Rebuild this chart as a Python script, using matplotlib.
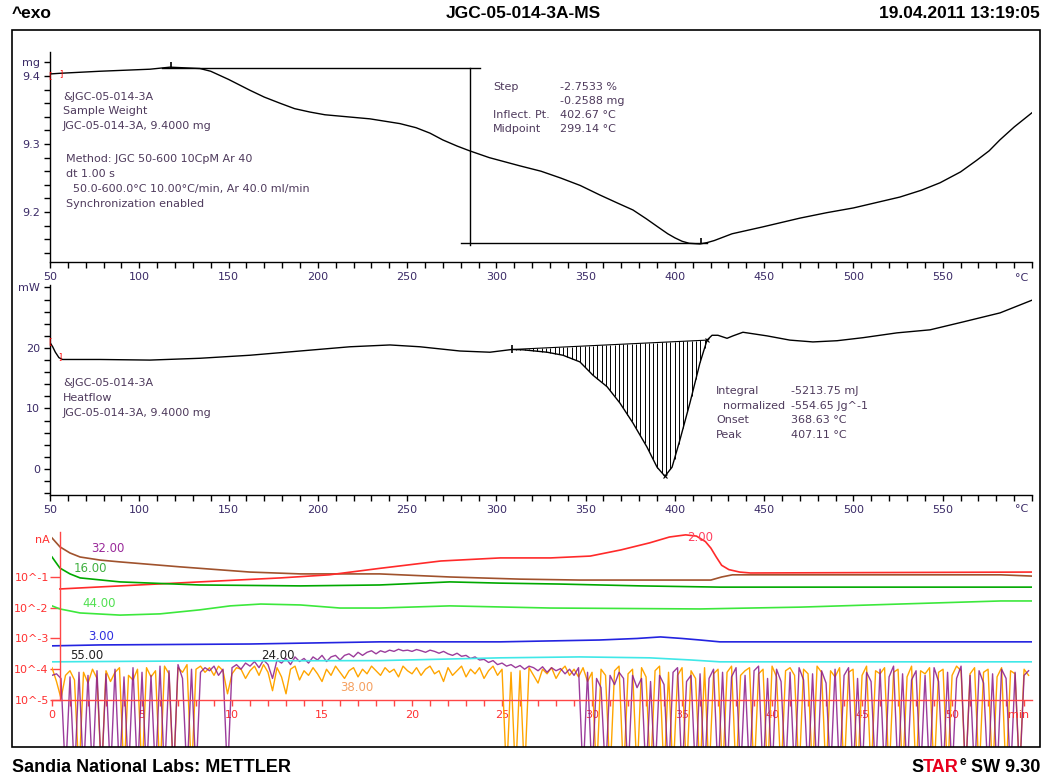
import numpy as np
import matplotlib
matplotlib.use('Agg')
import matplotlib.pyplot as plt
from matplotlib.patches import Rectangle
from matplotlib.ticker import MultipleLocator, FixedLocator

W, H = 1047, 780

# ---- TGA (sample weight) ----
tga_temp = [50.0, 55.6, 78.0, 106.0, 117.2, 134.0, 140.0, 150.0, 156.0, 162.0, 170.0, 178.8,
            187.0, 195.6, 204.0, 212.4, 229.2, 246.0, 255.0, 262.8, 270.0, 278.0, 285.0, 296.0,
            313.0, 325.0, 336.0, 347.0, 358.0, 368.0, 376.5, 384.0, 390.5, 396.0, 400.0, 404.0,
            408.0, 414.0, 418.0, 422.0, 432.0, 449.0, 470.0, 485.0, 500.0, 513.0, 526.0, 538.0,
            548.5, 560.0, 569.0, 576.0, 582.0, 590.0, 600.0]
tga_mg = [9.403, 9.404, 9.407, 9.410, 9.413, 9.411, 9.407, 9.395, 9.387, 9.379, 9.369, 9.360,
          9.352, 9.347, 9.343, 9.341, 9.337, 9.330, 9.324, 9.316, 9.306, 9.297, 9.290, 9.280,
          9.268, 9.260, 9.250, 9.239, 9.225, 9.213, 9.203, 9.190, 9.178, 9.168, 9.162, 9.157,
          9.154, 9.153, 9.155, 9.158, 9.168, 9.178, 9.191, 9.199, 9.206, 9.214, 9.222, 9.232,
          9.243, 9.259, 9.276, 9.290, 9.306, 9.325, 9.346]

# ---- DSC (heat flow) ----
dsc_temp = [50.0, 51.5, 53.0, 55.0, 57.0, 78.0, 106.0, 134.0, 162.0, 190.0, 218.0, 240.4,
            257.2, 279.6, 296.4, 308.7, 314.9, 328.4, 337.3, 346.8, 354.1, 362.0, 369.2, 376.5,
            384.4, 390.0, 394.4, 398.4, 402.8, 408.4, 414.0, 418.0, 420.8, 424.1, 429.2, 432.5,
            438.1, 451.6, 464.4, 477.3, 490.8, 505.3, 524.4, 542.9, 561.3, 582.1, 600.0]
dsc_mw = [20.9, 20.2, 19.3, 18.4, 18.1, 18.1, 18.0, 18.3, 18.8, 19.5, 20.2, 20.5,
          20.2, 19.5, 19.3, 19.75, 19.7, 19.3, 18.8, 17.7, 15.5, 13.6, 10.9, 7.6,
          3.6, 0.3, -1.2, 0.3, 4.8, 10.9, 17.5, 21.3, 22.1, 22.1, 21.6, 22.0,
          22.6, 22.0, 21.3, 21.0, 21.2, 21.7, 22.5, 23.0, 24.3, 25.8, 27.9]
base_temp = [308.7, 418.0]
base_mw = [19.75, 21.3]

# ---- MS ion currents (log10 of nA) ----
ms_t = {
    '32.00': [0.0, 0.44, 1.0, 1.56, 2.67, 3.78, 7.1, 11.0, 13.8, 18.2, 22.1, 26.0, 29.3, 34.9, 36.6, 37.2, 37.8, 41.6, 52.7, 54.4],
    '2.00': [0.44, 3.78, 8.2, 12.7, 15.4, 18.2, 21.6, 24.9, 27.7, 29.9, 31.6, 33.2, 34.3, 35.2, 35.8, 36.3, 36.6, 36.9, 37.2, 37.6, 38.2, 38.8, 54.4],
    '16.00': [0.0, 0.44, 1.0, 1.56, 3.78, 8.2, 13.8, 18.2, 22.1, 24.9, 28.2, 32.7, 37.1, 54.4],
    '44.00': [0.0, 0.44, 1.56, 3.78, 6.0, 8.2, 9.9, 11.6, 13.8, 16.0, 18.2, 22.1, 27.7, 36.0, 41.6, 47.1, 52.7, 54.4],
    '3.00': [0.0, 2.67, 11.0, 18.2, 24.9, 30.4, 32.5, 33.8, 35.0, 36.0, 37.1, 54.4],
    '55.00': [0.0, 8.2, 18.2, 24.9, 29.3, 33.2, 35.5, 37.1, 54.4],
}
ms_log = {
    '32.00': [0.27, -0.02, -0.22, -0.35, -0.45, -0.51, -0.67, -0.84, -0.90, -0.90, -1.00, -1.07, -1.10, -1.10, -1.10, -1.00, -0.93, -0.93, -0.93, -0.97],
    '2.00': [-1.39, -1.29, -1.16, -1.03, -0.93, -0.72, -0.48, -0.38, -0.38, -0.32, -0.12, 0.11, 0.30, 0.37, 0.33, 0.15, -0.06, -0.35, -0.62, -0.76, -0.84, -0.87, -0.84],
    '16.00': [-0.35, -0.71, -0.90, -1.03, -1.16, -1.26, -1.29, -1.26, -1.16, -1.20, -1.23, -1.29, -1.33, -1.33],
    '44.00': [-1.94, -2.04, -2.17, -2.24, -2.20, -2.07, -1.94, -1.88, -1.91, -2.01, -2.01, -1.94, -2.01, -2.04, -1.98, -1.88, -1.78, -1.78],
    '3.00': [-3.24, -3.21, -3.18, -3.11, -3.11, -3.05, -3.00, -2.95, -3.00, -3.05, -3.11, -3.11],
    '55.00': [-3.76, -3.73, -3.72, -3.63, -3.60, -3.63, -3.70, -3.76, -3.76],
}
ms_colors = {'32.00': '#a0522d', '2.00': '#ff2a2a', '16.00': '#00a800', '44.00': '#3ce83c',
             '3.00': '#2323e0', '55.00': '#40e8e8'}

# noisy channels, one reading every 0.25 min from 0 to 54.25 min (-7.5 = dropout below range)
purple_24 = [
    -4.20, -4.15, -4.30, -7.5, -4.25, -7.5, -4.10, -7.5, -4.20, -7.5, -4.05, -7.5,
    -4.15, -7.5, -4.00, -7.5, -4.25, -7.5, -3.95, -7.5, -4.10, -7.5, -4.20, -7.5,
    -3.90, -7.5, -4.05, -7.5, -3.85, -4.30, -7.5, -4.00, -7.5, -4.10, -3.95, -4.05,
    -3.90, -4.20, -4.00, -7.5, -3.95, -3.85, -4.00, -3.80, -3.90, -3.75, -3.95, -3.70,
    -3.85, -4.30, -3.70, -3.80, -3.65, -3.85, -3.60, -3.75, -3.65, -3.80, -3.60, -3.70,
    -3.55, -3.75, -3.60, -3.55, -3.70, -3.55, -3.50, -3.60, -3.45, -3.55, -3.45, -3.40,
    -3.50, -3.40, -3.45, -3.38, -3.42, -3.35, -3.40, -3.38, -3.42, -3.36, -3.40, -3.45,
    -3.38, -3.42, -3.48, -3.42, -3.50, -3.55, -3.48, -3.58, -3.55, -3.65, -3.60, -3.70,
    -3.68, -3.78, -3.72, -3.85, -3.80, -3.90, -3.85, -3.95, -3.88, -4.00, -3.90, -3.95,
    -4.05, -3.92, -4.10, -3.95, -4.05, -3.98, -4.15, -4.00, -4.20, -3.95, -7.5, -4.10,
    -7.5, -4.30, -4.60, -7.5, -4.20, -4.50, -4.10, -4.30, -7.5, -4.20, -4.60, -4.30,
    -7.5, -4.40, -7.5, -4.20, -4.50, -7.5, -4.10, -3.95, -7.5, -4.40, -4.20, -7.5,
    -4.15, -7.5, -4.30, -4.00, -7.5, -4.10, -7.5, -4.25, -3.95, -7.5, -4.20, -7.5,
    -4.05, -3.90, -7.5, -4.30, -7.5, -4.00, -4.40, -7.5, -4.10, -7.5, -3.95, -4.35,
    -7.5, -4.15, -7.5, -4.05, -4.45, -7.5, -4.00, -7.5, -4.20, -3.95, -7.5, -4.30,
    -7.5, -4.10, -4.40, -7.5, -4.00, -7.5, -4.25, -3.90, -7.5, -4.15, -7.5, -4.35,
    -4.05, -7.5, -4.20, -7.5, -3.95, -4.40, -7.5, -4.10, -7.5, -4.30, -3.90, -7.5,
    -4.20, -7.5, -4.05, -4.45, -7.5, -4.15, -7.5, -4.00, -4.30, -7.5, -4.10, -7.5,
    -4.20, -4.05]
orange_38 = [
    -3.95, -4.40, -4.95, -4.20, -4.05, -4.35, -7.5, -4.10, -4.45, -4.00, -4.30, -7.5,
    -4.05, -4.40, -4.10, -3.95, -7.5, -4.20, -4.35, -4.00, -7.5, -3.95, -4.25, -4.05,
    -7.5, -3.90, -4.15, -7.5, -3.95, -4.10, -3.85, -7.5, -4.00, -3.90, -4.10, -3.95,
    -4.20, -3.90, -4.05, -4.80, -4.15, -3.95, -4.00, -4.30, -4.05, -3.90, -4.20, -3.85,
    -4.10, -4.70, -3.95, -4.25, -4.80, -4.00, -3.90, -4.35, -4.05, -4.20, -3.95, -4.15,
    -4.40, -4.00, -4.20, -3.90, -4.10, -4.30, -4.05, -3.95, -4.25, -4.00, -4.15, -3.90,
    -4.05, -4.20, -3.95, -4.10, -4.00, -4.25, -3.90, -4.05, -4.15, -3.95, -4.20, -4.00,
    -3.90, -4.15, -4.05, -4.40, -3.95, -4.20, -4.05, -3.90, -4.25, -4.00, -4.15, -3.95,
    -4.30, -4.05, -3.90, -4.20, -4.00, -7.5, -4.10, -7.5, -4.05, -7.5, -3.95, -4.20,
    -4.45, -4.00, -4.15, -3.95, -4.30, -4.05, -3.90, -4.20, -4.00, -4.25, -3.95, -4.40,
    -4.10, -7.5, -4.00, -4.20, -7.5, -4.05, -3.90, -7.5, -4.15, -4.00, -7.5, -3.95,
    -4.25, -7.5, -4.05, -3.90, -7.5, -4.10, -7.5, -4.20, -3.95, -7.5, -4.05, -4.30,
    -7.5, -3.95, -7.5, -4.15, -4.00, -7.5, -4.10, -3.90, -7.5, -4.20, -4.05, -3.95,
    -7.5, -4.15, -4.00, -7.5, -3.90, -4.25, -7.5, -4.05, -3.95, -4.20, -7.5, -4.00,
    -4.15, -7.5, -3.90, -4.10, -7.5, -4.05, -4.25, -3.95, -7.5, -4.10, -4.00, -7.5,
    -4.20, -3.90, -7.5, -4.05, -4.15, -3.95, -7.5, -4.10, -4.00, -7.5, -4.25, -3.90,
    -7.5, -4.05, -4.15, -3.95, -7.5, -4.10, -4.00, -7.5, -4.20, -3.90, -4.05, -7.5,
    -4.15, -3.95, -7.5, -4.10, -4.00, -7.5, -4.25, -3.95, -7.5, -4.05, -4.15, -7.5,
    -4.00, -4.20]

TXT = '#4e3a5c'
TICK = '#3a2a66'
MSRED = '#ff4646'
FS = 8


def rect(l, t, r, b):
    return [l / W, 1 - b / H, (r - l) / W, (b - t) / H]


def style_axes(ax, color, tickcolor):
    for s in ['top', 'right']:
        ax.spines[s].set_visible(False)
    for s in ['left', 'bottom']:
        ax.spines[s].set_color(color)
        ax.spines[s].set_linewidth(1.0)
    ax.tick_params(which='both', direction='out', colors=color, labelcolor=tickcolor,
                   labelsize=FS, width=1.0)
    ax.tick_params(which='major', length=4, pad=3)
    ax.tick_params(which='minor', length=4)
    ax.patch.set_visible(False)


fig = plt.figure(figsize=(W / 100, H / 100), dpi=100)
renderer = fig.canvas.get_renderer()

# header / footer
head = dict(fontsize=12.5, fontweight='bold', family='Liberation Sans', va='center')
fig.text(12 / W, 1 - 14 / H, '^exo', **head)
fig.text(523 / W, 1 - 14 / H, 'JGC-05-014-3A-MS', ha='center', **head)
fig.text(1040 / W, 1 - 14 / H, '19.04.2011 13:19:05', ha='right', **head)
foot = dict(fontsize=13, fontweight='bold', family='Liberation Sans', va='center')
fig.text(12 / W, 1 - 767 / H, 'Sandia National Labs: METTLER', **foot)

xr = 1040
for s, c, dy, fs in [(' SW 9.30', 'black', 0, 13), ('e', 'black', -5, 8.5), ('TAR', '#e8001c', 0, 13),
                     ('S', 'black', 0, 13)]:
    t = fig.text(xr / W, 1 - (767 + dy) / H, s, color=c, ha='right',
                 **{**foot, 'fontsize': fs})
    xr = t.get_window_extent(renderer=renderer).x0

fig.patches.append(Rectangle((12 / W, 1 - 747 / H), 1028 / W, 717 / H, transform=fig.transFigure,
                             fill=False, lw=1.2, ec='black'))

# ---------------- TGA ----------------
ax1 = fig.add_axes(rect(50, 52, 1032, 262))
ax1.plot(tga_temp, tga_mg, color='black', lw=1.0)
ax1.set_xlim(50, 600)
ax1.set_ylim(9.1265, 9.4353)
style_axes(ax1, 'black', TICK)
ax1.xaxis.set_major_locator(FixedLocator([50, 100, 150, 200, 250, 300, 350, 400, 450, 500, 550]))
ax1.xaxis.set_minor_locator(MultipleLocator(10))
ax1.yaxis.set_major_locator(FixedLocator([9.2, 9.3, 9.4, 9.42]))
ax1.set_yticklabels(['9.2', '9.3', '9.4', 'mg'])
ax1.yaxis.set_minor_locator(MultipleLocator(0.02))
ax1.text(598, 9.1265 - 0.023, '°C', color=TICK, fontsize=FS, ha='right', va='center', clip_on=False)
# step evaluation lines
ax1.plot([113, 291], [9.4125, 9.4125], color='black', lw=1.0)
ax1.plot([285, 285], [9.4125, 9.151], color='black', lw=1.0)
ax1.plot([280, 418], [9.154, 9.154], color='black', lw=1.0)
ax1.plot([117.5, 414.5], [9.416, 9.157], ls='none', marker='|', ms=5, color='black', mew=1.2)
ax1.text(50, 9.4, '[', color='red', fontsize=6, ha='center', va='center')
ax1.text(56, 9.404, ']', color='red', fontsize=6, ha='center', va='center')

for i, s in enumerate(['&JGC-05-014-3A', 'Sample Weight', 'JGC-05-014-3A, 9.4000 mg']):
    fig.text(63 / W, 1 - (97 + 14.5 * i) / H, s, fontsize=FS, color=TXT, va='center')
for i, s in enumerate(['Method: JGC 50-600 10CpM Ar 40', 'dt 1.00 s',
                       '  50.0-600.0°C 10.00°C/min, Ar 40.0 ml/min', 'Synchronization enabled']):
    fig.text(66 / W, 1 - (159 + 15 * i) / H, s, fontsize=FS, color=TXT, va='center')
for i, (a, b) in enumerate([('Step', '-2.7533 %'), ('', '-0.2588 mg'), ('Inflect. Pt.', '402.67 °C'),
                            ('Midpoint', '299.14 °C')]):
    fig.text(493 / W, 1 - (87 + 14 * i) / H, a, fontsize=FS, color=TXT, va='center')
    fig.text(560 / W, 1 - (87 + 14 * i) / H, b, fontsize=FS, color=TXT, va='center')

# ---------------- DSC ----------------
ax2 = fig.add_axes(rect(50, 285, 1032, 495))
ax2.plot(dsc_temp, dsc_mw, color='black', lw=1.0)
ax2.plot(base_temp, base_mw, color='black', lw=0.8)
hx = np.arange(311, 418, 2.4)
ax2.vlines(hx, np.interp(hx, dsc_temp, dsc_mw), np.interp(hx, base_temp, base_mw), color='black', lw=0.7)
ax2.plot([308.7], [19.75], marker='|', ms=6, color='black', mew=1.2)
ax2.plot([418.0, 394.4], [21.3, -1.2], ls='none', marker='x', ms=3, color='black', mew=0.8)
ax2.set_xlim(50, 600)
ax2.set_ylim(-4.3, 30.41)
style_axes(ax2, 'black', TICK)
ax2.xaxis.set_major_locator(FixedLocator([50, 100, 150, 200, 250, 300, 350, 400, 450, 500, 550]))
ax2.xaxis.set_minor_locator(MultipleLocator(10))
ax2.yaxis.set_major_locator(FixedLocator([0, 10, 20, 30]))
ax2.set_yticklabels(['0', '10', '20', 'mW'])
ax2.yaxis.set_minor_locator(MultipleLocator(2))
ax2.text(598, -4.3 - 2.3, '°C', color=TICK, fontsize=FS, ha='right', va='center', clip_on=False)
ax2.text(50, 21.0, '[', color='red', fontsize=6, ha='center', va='center')
ax2.text(55.5, 18.6, ']', color='red', fontsize=6, ha='center', va='center')

for i, s in enumerate(['&JGC-05-014-3A', 'Heatflow', 'JGC-05-014-3A, 9.4000 mg']):
    fig.text(63 / W, 1 - (383 + 15 * i) / H, s, fontsize=FS, color=TXT, va='center')
for i, (a, b) in enumerate([('Integral', '-5213.75 mJ'), ('  normalized', '-554.65 Jg^-1'),
                            ('Onset', '368.63 °C'), ('Peak', '407.11 °C')]):
    fig.text(716 / W, 1 - (391 + 14.7 * i) / H, a, fontsize=FS, color=TXT, va='center')
    fig.text(791 / W, 1 - (391 + 14.7 * i) / H, b, fontsize=FS, color=TXT, va='center')

# ---------------- MS ----------------
ax3 = fig.add_axes(rect(52, 532, 1032, 747))
tn = np.linspace(0, 54.25, len(purple_24))
ax3.plot(tn, 10 ** np.array(orange_38), color='#ffa500', lw=1.0)
ax3.plot(tn, 10 ** np.array(purple_24), color='#8a1a8a', lw=1.0, alpha=0.85)
for k in ms_t:
    ax3.plot(ms_t[k], 10 ** np.array(ms_log[k]), color=ms_colors[k], lw=1.2)
ax3.set_yscale('log')
ax3.set_xlim(0, 54.44)
ax3.set_ylim(10 ** -6.53, 10 ** 0.463)
style_axes(ax3, MSRED, '#ff3030')
ax3.spines['left'].set_position(('data', 0.44))
ax3.spines['left'].set_bounds(1e-5, 10 ** 0.463)
ax3.spines['bottom'].set_position(('data', 1e-5))
ax3.yaxis.set_major_locator(FixedLocator([1e-5, 1e-4, 1e-3, 1e-2, 1e-1]))
ax3.set_yticklabels(['10^-5', '10^-4', '10^-3', '10^-2', '10^-1'])
ax3.yaxis.set_minor_locator(FixedLocator([]))
ax3.tick_params(axis='y', which='major', length=7, pad=1)
ax3.xaxis.set_major_locator(FixedLocator([0, 5, 10, 15, 20, 25, 30, 35, 40, 45, 50]))
ax3.xaxis.set_minor_locator(MultipleLocator(1))
ax3.tick_params(axis='x', which='both', length=4)
ax3.text(54.3, 10 ** -5.5, 'min', color='#ff3030', fontsize=FS, ha='right', va='center')
ax3.text(-0.1, 10 ** 0.2, 'nA', color='#ff3030', fontsize=FS, ha='right', va='center')

labels = [('32.00', 2.2, -0.06, '#9a2a9a'), ('16.00', 1.2, -0.74, '#40b040'), ('44.00', 1.67, -1.85, '#50e050'),
          ('3.00', 2.0, -2.95, '#3030e0'), ('55.00', 1.0, -3.57, '#202020'), ('24.00', 11.6, -3.54, '#202020'),
          ('38.00', 16.0, -4.58, '#f5a060'), ('2.00', 35.3, 0.30, '#ff4060')]
for s, x, y, c in labels:
    ax3.text(x, 10 ** y, s, color=c, fontsize=FS + 0.5, va='center')

fig.savefig('out.png', dpi=100)
